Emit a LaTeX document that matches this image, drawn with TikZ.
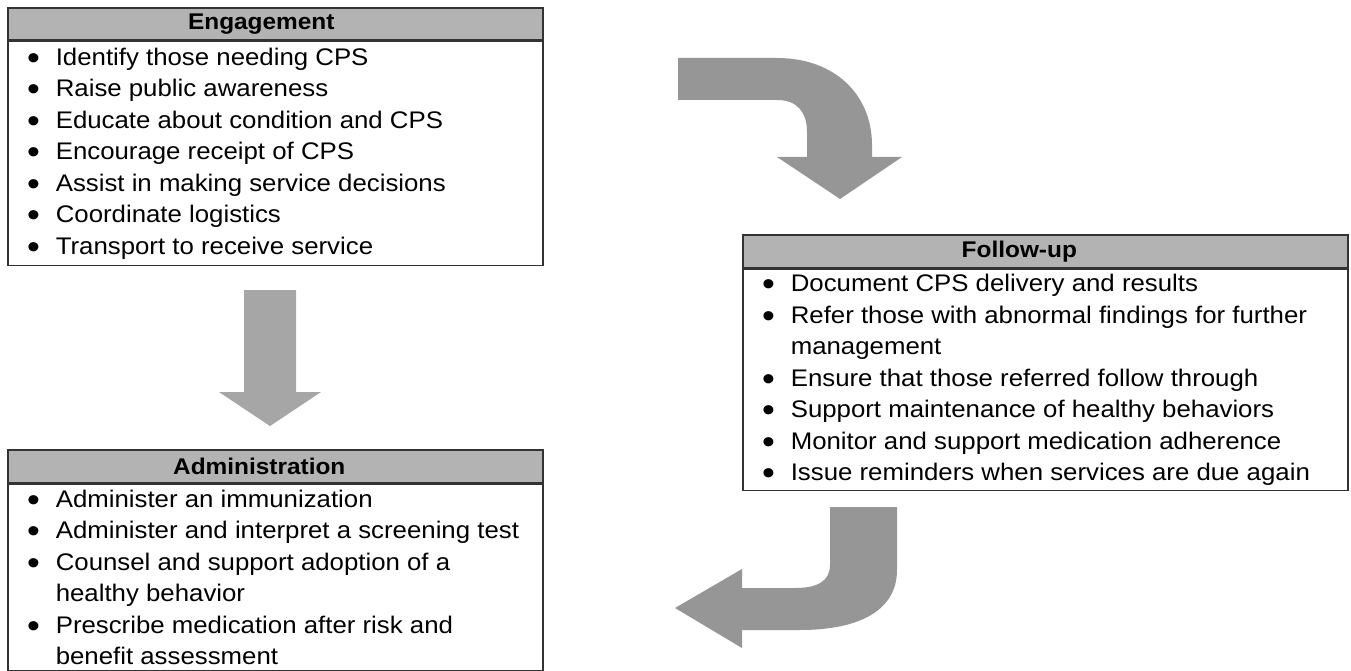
\documentclass[tikz,border=0pt]{standalone}
\usepackage{fontspec}
\setmainfont{Liberation Sans}[FakeStretch=1.075]
\usetikzlibrary{positioning}
\definecolor{headgray}{RGB}{179,179,179}
\definecolor{arrowgray}{RGB}{150,150,150}
\definecolor{downgray}{RGB}{166,166,166}
\definecolor{edgegray}{RGB}{51,51,51}
\newcommand*{\boxfont}{\fontsize{24}{31.5}\selectfont}
\newcommand*{\dotmark}{{\fontsize{34}{0}\selectfont\raisebox{-4pt}{\textbullet}}}
\newenvironment{dotlist}[1]{\begin{minipage}{#1}\begin{list}{\dotmark}{\setlength{\leftmargin}{48pt}\setlength{\labelwidth}{20pt}\setlength{\labelsep}{16pt}\setlength{\topsep}{0pt}\setlength{\partopsep}{0pt}\setlength{\parsep}{0pt}\setlength{\itemsep}{0pt}}\raggedright}{\end{list}\end{minipage}}
\tikzstyle{head} = [draw=edgegray, line width=1.6pt, fill=headgray, rectangle, inner sep=0pt, font=\fontsize{22.7}{27}\selectfont\bfseries]
\tikzstyle{body} = [draw=edgegray, line width=1.6pt, rectangle, inner sep=0pt, font=\boxfont]
\tikzstyle{bigarrow} = [fill=arrowgray]

\begin{document}
\begin{tikzpicture}[x=1pt, y=-1pt]
    \useasboundingbox (0,0) rectangle (1351,671);

    % Boxes.
    \node (engage) [head, minimum width=535pt, minimum height=32pt, anchor=north west] at (7,7) {Engagement\hspace*{28pt}};
    \node (engagelist) [body, minimum width=535pt, minimum height=224pt, below=0pt of engage] {%
        \begin{dotlist}{535pt}
            \item Identify those needing CPS
            \item Raise public awareness
            \item Educate about condition and CPS
            \item Encourage receipt of CPS
            \item Assist in making service decisions
            \item Coordinate logistics
            \item Transport to receive service
        \end{dotlist}};

    \node (admin) [head, minimum width=535pt, minimum height=33pt, anchor=north west] at (7,449) {Administration\hspace*{32pt}};
    \node (adminlist) [body, minimum width=535pt, minimum height=186pt, below=0pt of admin] {%
        \begin{dotlist}{535pt}
            \item Administer an immunization
            \item Administer and interpret a screening test
            \item Counsel and support adoption of a\newline healthy behavior
            \item Prescribe medication after risk and\newline benefit assessment
        \end{dotlist}};

    \node (follow) [head, minimum width=605pt, minimum height=33pt, anchor=north west] at (742,234) {Follow-up\hspace*{52pt}};
    \node (followlist) [body, minimum width=605pt, minimum height=221pt, below=0pt of follow] {%
        \begin{dotlist}{605pt}
            \item Document CPS delivery and results
            \item Refer those with abnormal findings for further\newline management
            \item Ensure that those referred follow through
            \item Support maintenance of healthy behaviors
            \item Monitor and support medication adherence
            \item Issue reminders when services are due again
        \end{dotlist}};

    % Arrows.
    \fill [bigarrow, fill=downgray] (244,290) -- (296,290) -- (296,392) -- (321,392) -- (270,426)
        -- (219,392) -- (244,392) -- cycle;
    \fill [bigarrow] (678,58) -- (777,58) .. controls (835,58) and (872,95) .. (872,145) -- (872,157)
        -- (902,157) -- (840,199) -- (777,157) -- (807,157) -- (807,132)
        .. controls (807,112) and (797,100) .. (777,100) -- (678,100) -- cycle;
    \fill [bigarrow] (830,507) -- (897,507) -- (897,570) .. controls (897,610) and (860,630) .. (800,630)
        -- (742,630) -- (742,648) -- (675,608) -- (742,569) -- (742,588) -- (795,588)
        .. controls (816,588) and (830,582) .. (830,565) -- cycle;
\end{tikzpicture}
\end{document}
